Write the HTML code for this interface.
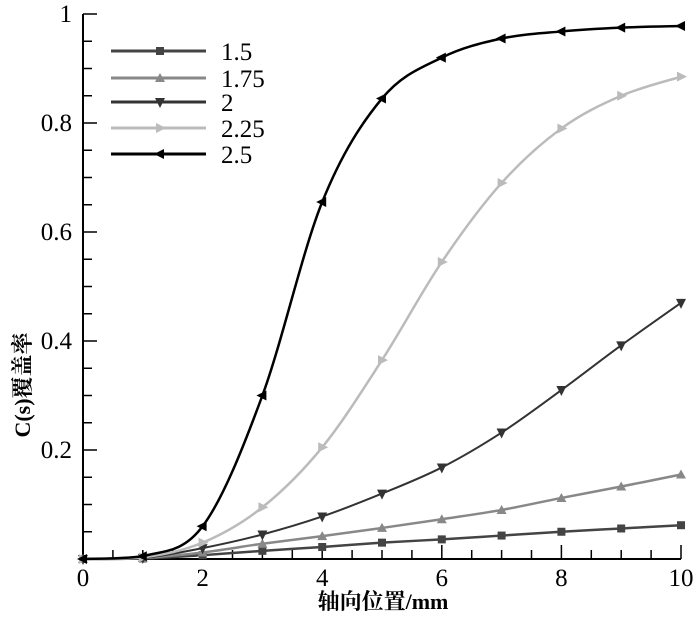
<!DOCTYPE html>
<html><head><meta charset="utf-8"><style>
html,body{margin:0;padding:0;background:#fff;}
svg text{font-family:"Liberation Serif","Noto Serif CJK SC",serif;}
</style></head><body>
<svg id="chart" width="700" height="613" viewBox="0 0 700 613" xmlns="http://www.w3.org/2000/svg">
<g id="axes"></g><g id="series"></g><g id="legend"></g>
<text transform="translate(30,385) rotate(-90)" text-anchor="middle" font-size="22" font-weight="bold" font-family="Liberation Serif, Noto Serif CJK SC, serif">C(s)覆盖率</text>
<text x="383" y="609" text-anchor="middle" font-size="22" font-weight="bold" font-family="Liberation Serif, Noto Serif CJK SC, serif">轴向位置/mm</text>
</svg>
<script>
const xValues=[0,1,2,3,4,5,6,7,8,9,10];
const seriesNames=["1.5","1.75","2","2.25","2.5"];
const s15=[0,0.001,0.007,0.015,0.022,0.03,0.036,0.043,0.05,0.056,0.062];
const s175=[0,0.002,0.012,0.028,0.042,0.057,0.073,0.09,0.112,0.133,0.155];
const s2=[0,0.002,0.02,0.045,0.078,0.12,0.168,0.232,0.31,0.392,0.47];
const s225=[0,0.003,0.03,0.095,0.205,0.365,0.545,0.69,0.79,0.85,0.885];
const s25=[0,0.005,0.06,0.3,0.655,0.845,0.92,0.955,0.968,0.975,0.978];
const xTicks=["0","2","4","6","8","10"];
const yTicks=["0.2","0.4","0.6","0.8","1"];
const NS="http://www.w3.org/2000/svg";
const FF="Liberation Serif, serif";
const X0=83,X1=681,Y0=559,Y1=14;
function sx(v){return X0+(X1-X0)*v/10;}
function sy(v){return Y0-(Y0-Y1)*v;}
function mk(tag,attrs,parent){const e=document.createElementNS(NS,tag);for(const k in attrs)e.setAttribute(k,attrs[k]);parent.appendChild(e);return e;}
const axes=document.getElementById('axes');
let a=mk('line',{x1:X0,y1:Y0,x2:X1,y2:Y0,stroke:'#000','stroke-width':2},axes);

a=mk('line',{x1:X0,y1:Y0,x2:X0,y2:Y1,stroke:'#000','stroke-width':2},axes);

for(let i=0;i<=20;i++){const v=i*0.5;const major=i%4==0;
 const t=mk('line',{x1:sx(v),x2:sx(v),y1:Y0,y2:Y0-(major?14:9),stroke:'#000','stroke-width':1.5},axes);
 }
xTicks.forEach(s=>{const t=mk('text',{x:sx(+s),y:586,'text-anchor':'middle','font-size':25,'font-family':FF},axes);t.textContent=s;
 });
for(let i=1;i<=20;i++){const v=i*0.05;const major=i%4==0;
 const t=mk('line',{x1:X0,x2:X0+(major?14:9),y1:sy(v),y2:sy(v),stroke:'#000','stroke-width':1.5},axes);
 }
yTicks.forEach(s=>{const t=mk('text',{x:72,y:sy(+s)+8,'text-anchor':'end','font-size':25,'font-family':FF},axes);t.textContent=s;
 });
const styles=[{c:'#444',m:'sq',w:2.5},{c:'#888',m:'up',w:2.5},{c:'#333',m:'dn',w:2},{c:'#bbb',m:'rt',w:2.5},{c:'#000',m:'lt',w:2.5}];
const data=[s15,s175,s2,s225,s25];
function marker(g,x,y,m,c){
 let p;
 if(m=='sq')p=mk('rect',{x:x-4,y:y-4,width:8,height:8,fill:c},g);
 else{let pts;
  if(m=='up')pts=[[x,y-5],[x-5,y+4],[x+5,y+4]];
  if(m=='dn')pts=[[x,y+6],[x-5,y-4],[x+5,y-4]];
  if(m=='rt')pts=[[x+6,y],[x-4,y-5],[x-4,y+5]];
  if(m=='lt')pts=[[x-6,y],[x+4,y-5],[x+4,y+5]];
  p=mk('polygon',{points:pts.map(q=>q.join(',')).join(' '),fill:c},g);}
 return p;}
function spline(pts){let d='M'+pts[0][0]+','+pts[0][1];
 for(let i=0;i<pts.length-1;i++){const p0=pts[Math.max(i-1,0)],p1=pts[i],p2=pts[i+1],p3=pts[Math.min(i+2,pts.length-1)];
  let c1y=p1[1]+(p2[1]-p0[1])/6,c2y=p2[1]-(p3[1]-p1[1])/6;
  const lo=Math.min(p1[1],p2[1]),hi=Math.max(p1[1],p2[1]);
  c1y=Math.min(Math.max(c1y,lo),hi);c2y=Math.min(Math.max(c2y,lo),hi);
  d+=' C'+(p1[0]+(p2[0]-p0[0])/6)+','+c1y+' '+(p2[0]-(p3[0]-p1[0])/6)+','+c2y+' '+p2[0]+','+p2[1];}
 return d;}
const sg=document.getElementById('series');
data.forEach((arr,k)=>{const st=styles[k];
 const g=mk('g',{},sg);
 
 
 const pts=arr.map((v,i)=>[sx(xValues[i]),sy(v)]);
 const path=mk('path',{d:spline(pts),fill:'none',stroke:st.c,'stroke-width':st.w},g);
 
 
 pts.forEach(p=>{const m=marker(g,p[0],p[1],st.m,st.c);
  
  });
});
const lg=document.getElementById('legend');
const ly=[51,78,102,128,154];
seriesNames.forEach((n,k)=>{const st=styles[k];
 const g=mk('g',{},lg);
 
 
 mk('line',{x1:111,x2:206,y1:ly[k],y2:ly[k],stroke:st.c,'stroke-width':3},g);
 marker(g,160,ly[k],st.m,st.c);
 const t=mk('text',{x:221,y:ly[k]+9,'font-size':25,'font-family':FF},g);t.textContent=n;
});
</script>
</body></html>
